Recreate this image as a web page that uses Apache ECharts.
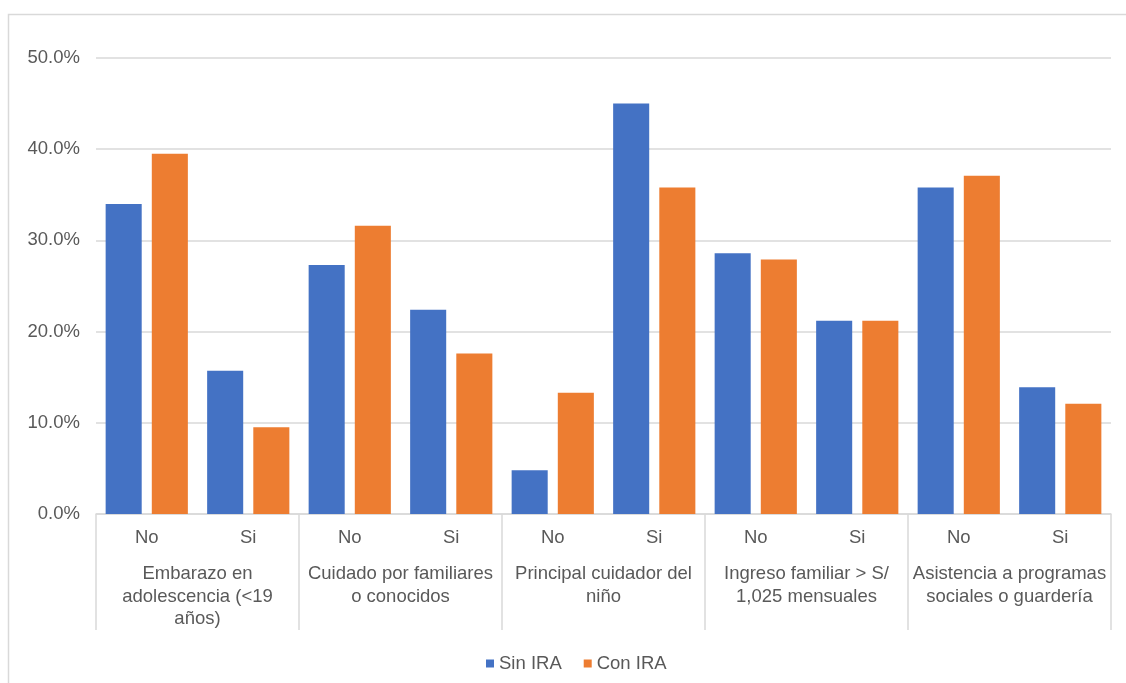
<!DOCTYPE html>
<html>
<head>
<meta charset="utf-8">
<script src="https://cdn.jsdelivr.net/npm/echarts@6/dist/echarts.min.js"></script>
<style>
  html, body { margin: 0; padding: 0; background: #ffffff; }
  #chart { width: 1126px; height: 683px; }
</style>
</head>
<body>
<div id="chart"></div>
<script>
// Answer options within each factor
const answers = ['No', 'Si', 'No', 'Si', 'No', 'Si', 'No', 'Si', 'No', 'Si'];

// Factor names (one per pair of answers)
const factors = [
  'Embarazo en\nadolescencia (<19\naños)',
  'Cuidado por familiares\no conocidos',
  'Principal cuidador del\nniño',
  'Ingreso familiar > S/\n1,025 mensuales',
  'Asistencia a programas\nsociales o guardería'
];

// Percentages per answer
const sinIRA = [34.0, 15.7, 27.3, 22.4, 4.8, 45.0, 28.6, 21.2, 35.8, 13.9];
const conIRA = [39.5, 9.5, 31.6, 17.6, 13.3, 35.8, 27.9, 21.2, 37.1, 12.1];

// Value axis ticks
const yTicks = { min: 0, max: 50, interval: 10 };

const FONT = '"Liberation Sans", Arial, sans-serif';
const TEXT = '#595959';
const LINE = '#d9d9d9';
const FS = 18.5;

const chart = echarts.init(document.getElementById('chart'), null, { renderer: 'canvas' });

chart.setOption({
  backgroundColor: '#ffffff',
  animation: false,
  textStyle: { fontFamily: FONT },
  graphic: [{
    type: 'rect',
    silent: true,
    shape: { x: 8.5, y: 14.5, width: 1300, height: 900 },
    style: { fill: 'none', stroke: LINE, lineWidth: 1.5 }
  }],
  grid: { left: 96, right: 15, top: 58, bottom: 169, containLabel: false },
  legend: {
    data: ['Sin IRA', 'Con IRA'],
    left: 481,
    top: 649,
    icon: 'rect',
    itemWidth: 8,
    itemHeight: 8,
    itemGap: 22,
    itemStyle: { borderWidth: 0 },
    textStyle: { color: TEXT, fontSize: FS, fontFamily: FONT }
  },
  xAxis: [
    {
      type: 'category',
      data: answers,
      position: 'bottom',
      axisLine: { show: true, lineStyle: { color: LINE, width: 1.5 } },
      axisTick: { show: false },
      axisLabel: { color: TEXT, fontSize: FS, fontFamily: FONT, margin: 14, interval: 0 },
      splitLine: { show: false }
    },
    {
      type: 'category',
      data: factors,
      position: 'bottom',
      axisLine: { show: false },
      axisTick: { show: true, length: 116, inside: false, lineStyle: { color: LINE, width: 1.5 } },
      axisLabel: {
        color: TEXT, fontSize: FS, fontFamily: FONT, margin: 49, interval: 0,
        lineHeight: 22.5, align: 'center'
      },
      splitLine: { show: false }
    }
  ],
  yAxis: {
    type: 'value',
    min: yTicks.min,
    max: yTicks.max,
    interval: yTicks.interval,
    axisLine: { show: false },
    axisTick: { show: false },
    axisLabel: {
      color: TEXT, fontSize: FS, fontFamily: FONT, margin: 16,
      formatter: v => v.toFixed(1) + '%'
    },
    splitLine: { show: true, lineStyle: { color: LINE, width: 1.5 } }
  },
  series: [
    {
      name: 'Sin IRA',
      type: 'bar',
      xAxisIndex: 0,
      data: sinIRA,
      barGap: '28%',
      barCategoryGap: '19%',
      itemStyle: { color: '#4472C4' }
    },
    {
      name: 'Con IRA',
      type: 'bar',
      xAxisIndex: 0,
      data: conIRA,
      barGap: '28%',
      barCategoryGap: '19%',
      itemStyle: { color: '#ED7D31' }
    }
  ]
});
</script>
</body>
</html>
